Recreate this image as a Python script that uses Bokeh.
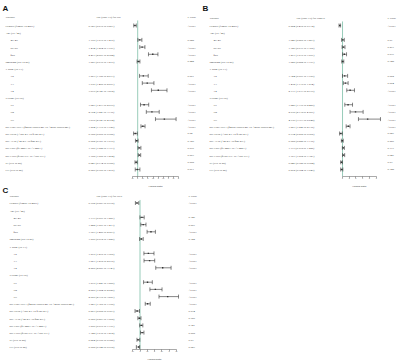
import math
from bokeh.plotting import figure
from bokeh.models import ColumnDataSource, LabelSet, Label, Range1d, FixedTicker, Title
from bokeh.layouts import gridplot
from bokeh.embed import file_html
from bokeh.resources import INLINE

variables = ["Gender (female vs male)", "Age (vs <40)", "40–49", "50–59", "≥60",
             "Smoking (yes vs no)", "T stage (vs T1)", "T2", "T3", "T4",
             "N stage (vs N0)", "N1", "N2", "N3",
             "pre-EBV-DNA (≥4000 copies/mL vs <4000 copies/mL)",
             "pre-HGB (<120 g/L vs ≥120 g/L)", "pre-ALB (<40 g/L vs ≥40 g/L)",
             "pre-CRP (≥3 mg/L vs <3 mg/L)", "pre-LDH (≥180 U/L vs <180 U/L)",
             "IC (yes vs no)", "CC (yes vs no)"]
indent = [0, 0, 1, 1, 1, 0, 0, 1, 1, 1, 0, 1, 1, 1, 0, 0, 0, 0, 0, 0, 0]

os_hr = [0.727, None, 1.199, 1.434, 2.477, 1.087, None, 1.553, 1.936, 3.019, None, 1.627, 2.394, 3.615, 1.504, 0.758, 0.902, 1.150, 1.158, 0.847, 0.960]
os_lo = [0.610, None, 1.019, 1.204, 2.057, 0.939, None, 1.180, 1.450, 2.347, None, 1.273, 1.843, 2.743, 1.319, 0.600, 0.781, 1.028, 1.050, 0.734, 0.759]
os_hi = [0.861, None, 1.410, 1.707, 2.984, 1.219, None, 2.033, 2.591, 3.872, None, 2.079, 3.110, 4.764, 1.720, 0.956, 1.039, 1.313, 1.294, 0.955, 1.215]
os_p = ["<0.001", "", "0.028", "<0.001", "<0.001", "0.242", "", "0.001", "<0.001", "<0.001", "", "<0.001", "<0.001", "<0.001", "<0.001", "0.02", "0.129", "0.016", "0.003", "0.008", "0.071"]

dmfs_hr = [0.584, None, 1.046, 1.126, 1.277, 1.025, None, 1.324, 1.432, 2.131, None, 1.826, 2.935, 4.736, 1.857, 0.734, 0.958, 1.117, 1.151, 0.846, 0.872]
dmfs_lo = [0.478, None, 0.860, 0.937, 1.019, 0.882, None, 0.997, 1.119, 1.633, None, 1.339, 2.118, 3.373, 1.545, 0.558, 0.828, 0.975, 1.002, 0.728, 0.724]
dmfs_hi = [0.714, None, 1.263, 1.366, 1.597, 1.191, None, 1.759, 1.834, 2.779, None, 2.489, 4.067, 6.648, 2.116, 0.966, 1.110, 1.280, 1.321, 0.984, 1.049]
dmfs_p = ["<0.001", "", "0.61", "0.217", "0.037", "0.748", "", "0.052", "0.004", "<0.001", "", "<0.001", "<0.001", "<0.001", "<0.001", "0.027", "0.566", "0.117", "0.047", "0.03", "0.148"]

dfs_hr = [0.792, None, 1.133, 1.222, 1.757, 1.090, None, 1.579, 1.661, 2.565, None, 1.519, 2.060, 2.909, 1.523, 0.803, 0.955, 1.090, 1.148, 0.864, 0.908]
dfs_lo = [0.683, None, 0.997, 1.057, 1.489, 0.972, None, 1.270, 1.278, 2.087, None, 1.247, 1.684, 2.310, 1.360, 0.658, 0.853, 0.979, 1.036, 0.790, 0.748]
dfs_hi = [0.918, None, 1.287, 1.413, 2.063, 1.220, None, 1.965, 2.015, 3.143, None, 1.850, 2.520, 3.657, 1.705, 0.963, 1.068, 1.197, 1.272, 0.986, 0.978]
dfs_p = ["<0.001", "", "0.146", "0.007", "<0.001", "0.142", "", "<0.001", "<0.001", "<0.001", "", "<0.001", "<0.001", "<0.001", "<0.001", "0.034", "0.789", "0.141", "0.008", "0.03", "0.023"]

FONT = "Liberation Sans"
TXT = "#333333"
FS = "2.9px"


def panel(letter, endpoint, hr, lo, hi, pv, ticks, cfg):
    W = 200
    fh = cfg["frame_h"]
    px0, pxs = cfg["px0"], cfg["pxs"]
    y0, dy = cfg["y0"], cfg["dy"]
    p = figure(frame_width=W, frame_height=fh, output_backend="svg",
               toolbar_location=None, min_border=0,
               y_axis_location=None,
               x_range=Range1d((0 - px0) / pxs, (W - px0) / pxs),
               y_range=Range1d((fh - y0) / dy, (0 - y0) / dy))
    p.grid.visible = False
    p.outline_line_color = None
    p.background_fill_color = "white"
    p.border_fill_color = "white"

    n = len(variables)
    rows = list(range(n))
    head_r = (cfg["head_y"] - y0) / dy
    bot_r = (fh - y0) / dy

    # reference line at HR = 1
    p.segment(x0=[1], x1=[1], y0=[head_r + 0.55], y1=[bot_r],
              line_color="#7dbfa8", line_width=0.8)

    idx = [i for i in rows if hr[i] is not None]
    src = ColumnDataSource(dict(
        r=[i for i in idx], hr=[hr[i] for i in idx],
        lo=[lo[i] for i in idx], hi=[hi[i] for i in idx]))
    p.segment(x0="lo", x1="hi", y0="r", y1="r", source=src,
              line_color="#333333", line_width=0.6)
    p.scatter(x="lo", y="r", source=src, marker="dash", angle=math.pi / 2,
              size=4, line_color="#333333", line_width=0.6)
    p.scatter(x="hi", y="r", source=src, marker="dash", angle=math.pi / 2,
              size=4, line_color="#333333", line_width=0.6)
    p.scatter(x="hr", y="r", source=src, marker="square", size=1.4,
              fill_color="#333333", line_color=None)

    # text columns
    var_src = ColumnDataSource(dict(
        x=[cfg["var_x"] + (cfg["ind_x"] - cfg["var_x"]) * indent[i] for i in rows],
        y=rows, t=variables))
    hr_txt = ["" if hr[i] is None else f"{hr[i]:.3f} ({lo[i]:.3f} to {hi[i]:.3f})" for i in rows]
    hr_src = ColumnDataSource(dict(x=[cfg["hr_x"]] * n, y=rows, t=hr_txt))
    p_src = ColumnDataSource(dict(x=[cfg["p_x"]] * n, y=rows, t=pv))
    head_src = ColumnDataSource(dict(
        x=[cfg["var_x"], cfg["head_hr_x"], cfg["p_x"]], y=[head_r] * 3,
        t=["Variable", f"HR (95% CI) for {endpoint}", "P value"]))
    for s in (var_src, hr_src, p_src, head_src):
        p.add_layout(LabelSet(x="x", y="y", text="t", source=s, x_units="screen",
                              text_font=FONT, text_font_size=FS, text_color=TXT,
                              text_baseline="middle", text_align="left"))
    p.add_layout(Label(x=2, y=(cfg["letter_y"] - y0) / dy, x_units="screen",
                       text=letter, text_font=FONT, text_font_size="8px",
                       text_font_style="bold", text_color="#111111",
                       text_baseline="middle"))

    ax = p.xaxis[0]
    ax.ticker = FixedTicker(ticks=ticks)
    ax.bounds = (ticks[0], ticks[-1])
    ax.axis_line_color = "#555555"
    ax.axis_line_width = 0.5
    ax.major_tick_line_color = "#555555"
    ax.major_tick_line_width = 0.5
    ax.major_tick_out = 2
    ax.major_tick_in = 0
    ax.minor_tick_line_color = None
    ax.major_label_text_font = FONT
    ax.major_label_text_font_size = "1.6px"
    ax.major_label_text_color = "#777777"
    ax.major_label_standoff = 0

    # axis title placed under the forest part
    mid_px = px0 + pxs * (ticks[0] + ticks[-1]) / 2
    p.add_layout(Title(text="Hazard Ratio", align="left", offset=mid_px - 7,
                       text_font=FONT, text_font_size="2.4px",
                       text_font_style="normal", text_color=TXT, standoff=0),
                 "below")
    return p


cfg_a = dict(frame_h=176, px0=127.0, pxs=10.2, y0=25.0, dy=7.2, head_y=16.0,
             letter_y=8.0, var_x=5, ind_x=10, hr_x=88, head_hr_x=96, p_x=187)
cfg_b = dict(frame_h=176, px0=135.3, pxs=6.72, y0=25.0, dy=7.2, head_y=17.0,
             letter_y=8.0, var_x=9, ind_x=13, hr_x=88, head_hr_x=96, p_x=187)
cfg_c = dict(frame_h=162, px0=125.0, pxs=14.5, y0=15.5, dy=7.2, head_y=8.5,
             letter_y=3.0, var_x=9, ind_x=13, hr_x=88, head_hr_x=96, p_x=188)

pa = panel("A", "OS", os_hr, os_lo, os_hi, os_p, [0.5, 1, 1.5, 2, 2.5, 3, 3.5, 4, 4.5, 5], cfg_a)
pb = panel("B", "DMFS", dmfs_hr, dmfs_lo, dmfs_hi, dmfs_p, [1, 2, 3, 4, 5, 6], cfg_b)
pc = panel("C", "DFS", dfs_hr, dfs_lo, dfs_hi, dfs_p, [0.5, 1, 1.5, 2, 2.5, 3, 3.5], cfg_c)

grid = gridplot([[pa, pb], [pc, None]], toolbar_location=None)
open("out.html", "w").write(file_html(grid, INLINE))
